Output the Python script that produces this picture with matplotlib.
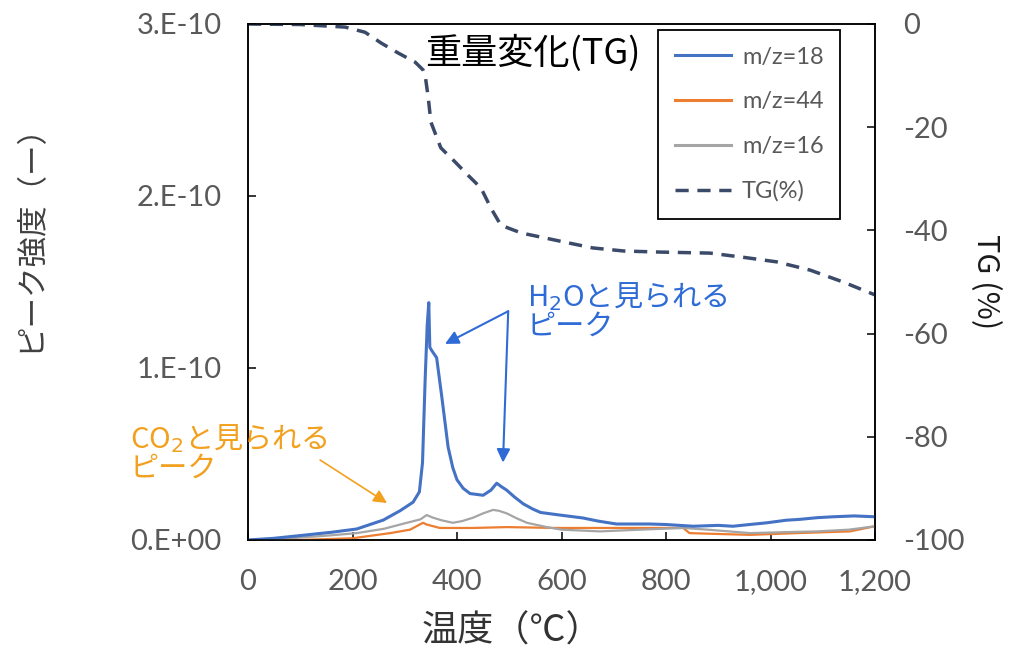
import matplotlib
matplotlib.use("Agg")
import matplotlib.pyplot as plt
from matplotlib.lines import Line2D

plt.rcParams['font.family'] = ['Lato', 'Noto Sans CJK JP', 'DejaVu Sans']

# --- data (temperature in degC, intensity in 1e-10) ---
t18 = [0, 50, 113, 160, 208, 259, 291, 316, 328, 334, 339, 343, 346, 348, 352, 361,
       371, 383, 392, 400, 412, 425, 450, 465, 476, 485, 495, 510, 527, 545, 560,
       597, 641, 670, 705, 769, 800, 852, 900, 928, 960, 993, 1030, 1056, 1090,
       1120, 1160, 1200]
mz18 = [0.0, 0.01, 0.03, 0.045, 0.064, 0.116, 0.17, 0.22, 0.28, 0.45, 0.93, 1.25,
        1.38, 1.12, 1.10, 1.06, 0.83, 0.54, 0.42, 0.35, 0.30, 0.27, 0.26, 0.29,
        0.33, 0.31, 0.29, 0.25, 0.21, 0.18, 0.16, 0.145, 0.128, 0.11, 0.093,
        0.093, 0.09, 0.08, 0.085, 0.08, 0.09, 0.10, 0.115, 0.12, 0.13, 0.135,
        0.14, 0.135]

t44 = [0, 100, 200, 272, 310, 335, 342, 367, 400, 431, 495, 590, 700, 833, 845,
       900, 961, 1050, 1152, 1200]
mz44 = [0.0, 0.0, 0.01, 0.04, 0.06, 0.10, 0.09, 0.07, 0.07, 0.07, 0.075, 0.07,
        0.07, 0.07, 0.04, 0.035, 0.03, 0.04, 0.05, 0.08]

t16 = [0, 80, 150, 208, 260, 304, 330, 342, 354, 370, 392, 410, 431, 450, 469,
       480, 495, 515, 534, 572, 600, 674, 750, 833, 880, 961, 1020, 1089, 1150, 1200]
mz16 = [0.0, 0.01, 0.025, 0.04, 0.065, 0.10, 0.12, 0.145, 0.13, 0.115, 0.10, 0.11,
        0.13, 0.155, 0.175, 0.17, 0.155, 0.125, 0.10, 0.075, 0.06, 0.05, 0.06,
        0.07, 0.06, 0.04, 0.045, 0.05, 0.06, 0.08]

t_tg = [0, 100, 186, 224, 255, 287, 320, 335, 339, 345, 350, 369, 396, 421, 446,
        465, 484, 523, 570, 612, 660, 720, 788, 884, 947, 1012, 1076, 1139, 1200]
tg = [0.0, -0.1, -0.6, -1.6, -3.7, -5.6, -7.4, -8.9, -9.9, -14.3, -19.0, -24.0,
      -26.7, -29.3, -31.8, -35.7, -39.0, -40.5, -41.5, -42.4, -43.4, -44.0,
      -44.2, -44.4, -45.2, -46.1, -47.7, -50.0, -52.5]

x_ticks = [0, 200, 400, 600, 800, 1000, 1200]
x_tick_labels = ['0', '200', '400', '600', '800', '1,000', '1,200']
left_ticks = [0, 1e-10, 2e-10, 3e-10]
left_tick_labels = ['0.E+00', '1.E-10', '2.E-10', '3.E-10']
right_ticks = [0, -20, -40, -60, -80, -100]
right_tick_labels = ['0', '-20', '-40', '-60', '-80', '-100']

# annotation anchor points (degC, intensity)
h2o_from = (498, 1.33e-10)
h2o_tips = [(377, 1.14e-10), (488, 0.45e-10)]
co2_from = (138, 0.465e-10)
co2_tip = (266, 0.215e-10)

c18, c44, c16, ctg = '#4472C4', '#ED7D31', '#A5A5A5', '#3B4A68'
tick_col = '#595959'

fig = plt.figure(figsize=(10.22, 6.55), dpi=100)
ax = fig.add_axes([248 / 1022, 1 - 540 / 655, 627 / 1022, 516 / 655])
ax2 = ax.twinx()

scale = 1e-10
ax.plot(t18, [v * scale for v in mz18], color=c18, lw=2.2, zorder=4)
ax.plot(t44, [v * scale for v in mz44], color=c44, lw=1.6, zorder=3)
ax.plot(t16, [v * scale for v in mz16], color=c16, lw=1.6, zorder=3)
ax2.plot(t_tg, tg, color=ctg, lw=2.5, dashes=(3.8, 2.5))

ax.set_xlim(0, 1200)
ax.set_ylim(0, 3e-10)
ax2.set_ylim(-100, 0)

ax.set_xticks(x_ticks, labels=x_tick_labels)
ax.set_yticks(left_ticks, labels=left_tick_labels)
ax2.set_yticks(right_ticks, labels=right_tick_labels)

for a in (ax, ax2):
    for s in a.spines.values():
        s.set_linewidth(1.1)
        s.set_color('black')
ax.tick_params(axis='both', direction='in', length=6, width=1.1,
               labelsize=21, labelcolor=tick_col)
ax.tick_params(axis='y', pad=19)
ax.tick_params(axis='x', pad=21)
ax2.tick_params(axis='y', direction='in', length=6, width=1.1,
                labelsize=21, labelcolor=tick_col, pad=20)

# axis labels
fig.text(512 / 1022, 1 - 632 / 655, '温度（℃）', fontsize=26, color='#333333',
         ha='center', va='center', family=['Noto Sans CJK JP'])
fig.text(30 / 1022, 1 - 230 / 655, 'ピーク強度（ー）', fontsize=22, color='#404040',
         rotation=90, ha='center', va='center', family=['Noto Sans CJK JP'])
fig.text(985 / 1022, 1 - 282 / 655, 'TG (%)', fontsize=22, color='#1a1a1a',
         rotation=-90, ha='center', va='center', family=['Noto Sans CJK JP'])

# legend
handles = [Line2D([], [], color=c18, lw=2.2),
           Line2D([], [], color=c44, lw=2.2),
           Line2D([], [], color=c16, lw=2.2),
           Line2D([], [], color=ctg, lw=2.5, dashes=(3.8, 2.5))]
labels = ['m/z=18', 'm/z=44', 'm/z=16', 'TG(%)']
leg = ax2.legend(handles, labels, loc='upper left', bbox_to_anchor=(0.654, 0.988),
                 borderaxespad=0, fontsize=17, labelcolor=tick_col, frameon=True,
                 fancybox=False, edgecolor='black', framealpha=1,
                 handlelength=2.4, handletextpad=0.45, labelspacing=1.0,
                 borderpad=0.7)
leg.get_frame().set_linewidth(1.3)

ax2.text(0.282, 0.944, '重量変化(TG)', transform=ax.transAxes, fontsize=26,
         color='black', ha='left', va='center', family=['Noto Sans CJK JP'])

# H2O annotation
blue_txt = '#2F6BD6'
fig.text(527 / 1022, 1 - 280 / 655, 'H$_2$Oと見られる\nピーク', fontsize=21,
         color=blue_txt, ha='left', va='top', linespacing=0.95,
         family=['Noto Sans CJK JP'])
for tip in h2o_tips:
    ax.annotate('', xy=tip, xytext=h2o_from,
                arrowprops=dict(arrowstyle='-|>,head_length=0.8,head_width=0.4',
                                color=blue_txt, lw=1.5, shrinkA=0, shrinkB=0))

# CO2 annotation
orange_txt = '#F2A01E'
fig.text(130 / 1022, 1 - 422 / 655, 'CO$_2$と見られる\nピーク', fontsize=21,
         color=orange_txt, ha='left', va='top', linespacing=0.95,
         family=['Noto Sans CJK JP'])
ax.annotate('', xy=co2_tip, xytext=co2_from,
            arrowprops=dict(arrowstyle='-|>,head_length=0.8,head_width=0.4',
                            color=orange_txt, lw=1.2, shrinkA=0, shrinkB=0))

fig.savefig('out.png', dpi=100)
